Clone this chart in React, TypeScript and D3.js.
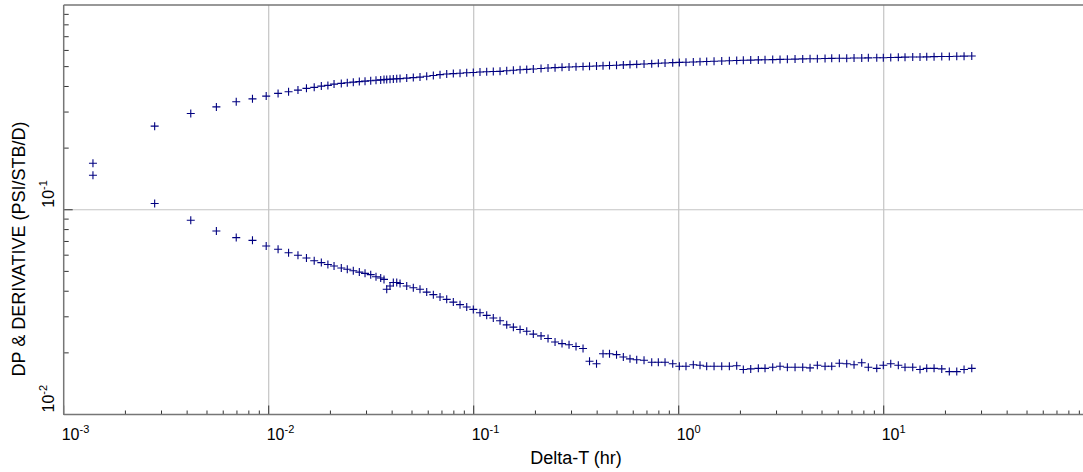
import React from "react";
import * as d3 from "d3";

// Elapsed time (hr)
const deltaT = [
  0.001389, 0.002778, 0.004167, 0.005556, 0.006944, 0.008333, 0.009722, 0.01111, 0.0125, 0.01389,
  0.01528, 0.01667, 0.01806, 0.01944, 0.02083, 0.0226, 0.02417, 0.02586, 0.02767, 0.0295,
  0.03145, 0.03337, 0.03518, 0.03651, 0.03764, 0.03906, 0.04054, 0.04212, 0.04371, 0.04712,
  0.05074, 0.0547, 0.05898, 0.06354, 0.06849, 0.07384, 0.07953, 0.08575, 0.09245, 0.09954,
  0.1073, 0.1157, 0.1246, 0.1344, 0.1449, 0.1561, 0.1683, 0.1814, 0.1953, 0.213,
  0.2304, 0.2493, 0.2696, 0.2917, 0.3155, 0.3414, 0.3672, 0.3972, 0.4273, 0.4596,
  0.4973, 0.5368, 0.5785, 0.6239, 0.6773, 0.7384, 0.7953, 0.8575, 0.9348, 1.007,
  1.085, 1.178, 1.27, 1.369, 1.487, 1.621, 1.766, 1.918, 2.066, 2.245,
  2.445, 2.636, 2.874, 3.12, 3.388, 3.693, 4.026, 4.371, 4.745, 5.173,
  5.576, 6.074, 6.599, 7.164, 7.811, 8.413, 9.247, 9.954, 10.82, 11.78,
  12.7, 13.85, 15.03, 16.21, 17.6, 19.19, 20.89, 22.71, 24.65, 26.88,
];

// Pressure change DP (psi/STB/D)
const dp = [
  0.1475, 0.256, 0.2954, 0.318, 0.3366, 0.348, 0.359, 0.37, 0.3767, 0.384,
  0.3916, 0.396, 0.4016, 0.4048, 0.4108, 0.414, 0.417, 0.42, 0.4225, 0.4248,
  0.4268, 0.4288, 0.4307, 0.4322, 0.4332, 0.4341, 0.435, 0.4361, 0.437, 0.4394,
  0.4419, 0.4446, 0.4486, 0.4526, 0.4568, 0.4602, 0.4624, 0.4645, 0.4666, 0.4683,
  0.4704, 0.472, 0.4732, 0.4743, 0.4775, 0.4804, 0.483, 0.4848, 0.487, 0.4899,
  0.492, 0.4944, 0.496, 0.4977, 0.499, 0.5006, 0.5022, 0.5035, 0.5052, 0.5064,
  0.5081, 0.5098, 0.5115, 0.5131, 0.5148, 0.5172, 0.5195, 0.5211, 0.5229, 0.5245,
  0.5257, 0.5269, 0.5286, 0.5297, 0.5315, 0.5328, 0.5344, 0.5356, 0.5368, 0.5381,
  0.5393, 0.5405, 0.5411, 0.5424, 0.5436, 0.5443, 0.5454, 0.5461, 0.5467, 0.5481,
  0.5487, 0.5494, 0.5499, 0.5506, 0.5512, 0.5518, 0.5524, 0.553, 0.5543, 0.555,
  0.5562, 0.5568, 0.5574, 0.5581, 0.5593, 0.56, 0.5606, 0.5619, 0.5625, 0.5632,
];

// Pressure derivative (psi/STB/D)
const derivative = [
  0.1687, 0.1072, 0.0888, 0.0787, 0.0731, 0.0709, 0.0665, 0.0641, 0.0617, 0.0599,
  0.0581, 0.0564, 0.0552, 0.054, 0.0531, 0.0519, 0.0512, 0.0504, 0.0496, 0.0489,
  0.0482, 0.0471, 0.0464, 0.0457, 0.0409, 0.0424, 0.0441, 0.0441, 0.0436, 0.0424,
  0.0416, 0.0409, 0.0396, 0.0385, 0.0375, 0.0365, 0.0354, 0.0344, 0.0335, 0.0326,
  0.0314, 0.0305, 0.0296, 0.0287, 0.0274, 0.0267, 0.026, 0.0255, 0.0247, 0.0242,
  0.0235, 0.0226, 0.0222, 0.0219, 0.0215, 0.021, 0.0182, 0.0177, 0.0198, 0.0198,
  0.0196, 0.0191, 0.0187, 0.0185, 0.0184, 0.018, 0.018, 0.018, 0.0177, 0.0172,
  0.0172, 0.0175, 0.0174, 0.0172, 0.0172, 0.0172, 0.0172, 0.0173, 0.0166, 0.0167,
  0.0168, 0.0168, 0.017, 0.0172, 0.017, 0.017, 0.017, 0.0169, 0.0174, 0.0172,
  0.0172, 0.0178, 0.0177, 0.0175, 0.0179, 0.017, 0.0168, 0.0174, 0.0177, 0.0174,
  0.017, 0.017, 0.0166, 0.0168, 0.0168, 0.0167, 0.0162, 0.0162, 0.0166, 0.0168,
];

const xTickValues = [0.001, 0.01, 0.1, 1, 10];
const xTickExponents = ["-3", "-2", "-1", "0", "1"];
const yTickValues = [0.01, 0.1];
const yTickExponents = ["-2", "-1"];
const xTitle = "Delta-T (hr)";
const yTitle = "DP & DERIVATIVE (PSI/STB/D)";

const W = 1083;
const H = 472;
const FONT = "'Liberation Sans', Arial, Helvetica, sans-serif";
const MARK = "#000080";

export default function App() {
  const left = 63.7;
  const top = 5;
  const bottom = 414.5;
  const x = d3.scaleLog().domain([1e-3, 93.76]).range([left, W]);
  const y = d3.scaleLog().domain([0.01, 1]).range([bottom, top]);

  const xMinor: number[] = [];
  for (let e = -3; e <= 1; e++) for (let m = 2; m <= 9; m++) xMinor.push(m * Math.pow(10, e));
  const yMinor: number[] = [];
  for (let e = -2; e <= -1; e++) for (let m = 2; m <= 9; m++) yMinor.push(m * Math.pow(10, e));

  const cross = (cx: number, cy: number, k: string) => (
    <path key={k} d={`M${cx - 4},${cy}H${cx + 4}M${cx},${cy - 4}V${cy + 4}`} stroke={MARK} strokeWidth={1.1} fill="none" />
  );

  return (
    <svg width={W} height={H} style={{ position: "absolute", left: 0, top: 0, background: "#fff" }} fontFamily={FONT}>
      <rect x={0} y={0} width={W} height={H} fill="#fff" />
      {/* grid */}
      {xTickValues.slice(1).map((v) => (
        <line key={"gx" + v} x1={x(v)} x2={x(v)} y1={top} y2={bottom} stroke="#c4c4c4" strokeWidth={1.2} />
      ))}
      <line x1={left} x2={W} y1={y(0.1)} y2={y(0.1)} stroke="#c4c4c4" strokeWidth={1.2} />
      {/* minor ticks */}
      {xMinor.filter((v) => x(v) <= W).map((v) => (
        <line key={"mx" + v} x1={x(v)} x2={x(v)} y1={bottom} y2={bottom - 4} stroke="#333" strokeWidth={1} />
      ))}
      {yMinor.map((v) => (
        <line key={"my" + v} x1={left} x2={left + 5} y1={y(v)} y2={y(v)} stroke="#333" strokeWidth={1} />
      ))}
      {/* major ticks */}
      {xTickValues.map((v) => (
        <line key={"Mx" + v} x1={x(v)} x2={x(v)} y1={bottom} y2={bottom - 9} stroke="#333" strokeWidth={1} />
      ))}
      {yTickValues.map((v) => (
        <line key={"My" + v} x1={left} x2={left + 9} y1={y(v)} y2={y(v)} stroke="#333" strokeWidth={1} />
      ))}
      {/* frame */}
      <line x1={left} x2={W} y1={top} y2={top} stroke="#767676" strokeWidth={1.5} />
      <line x1={left} x2={W} y1={bottom} y2={bottom} stroke="#767676" strokeWidth={1.5} />
      <line x1={left} x2={left} y1={top} y2={bottom} stroke="#767676" strokeWidth={1.5} />
      {/* data */}
      {deltaT.map((t, i) => cross(x(t), y(dp[i]), "dp" + i))}
      {deltaT.map((t, i) => cross(x(t), y(derivative[i]), "dv" + i))}
      {/* x tick labels */}
      {xTickValues.map((v, i) => (
        <text key={"lx" + v} x={x(v) - 2} y={440} fontSize={16} fill="#000">
          10
          <tspan fontSize={11} dy={-7}>{xTickExponents[i]}</tspan>
        </text>
      ))}
      {/* y tick labels */}
      {yTickValues.map((v, i) => (
        <text key={"ly" + v} transform={`translate(54,${y(v) - 2}) rotate(-90)`} fontSize={16} fill="#000">
          10
          <tspan fontSize={11} dy={-7}>{yTickExponents[i]}</tspan>
        </text>
      ))}
      {/* titles */}
      <text x={576} y={464} fontSize={18} textAnchor="middle" fill="#000">{xTitle}</text>
      <text transform="translate(25,249) rotate(-90)" fontSize={18} textAnchor="middle" fill="#000">{yTitle}</text>
    </svg>
  );
}
